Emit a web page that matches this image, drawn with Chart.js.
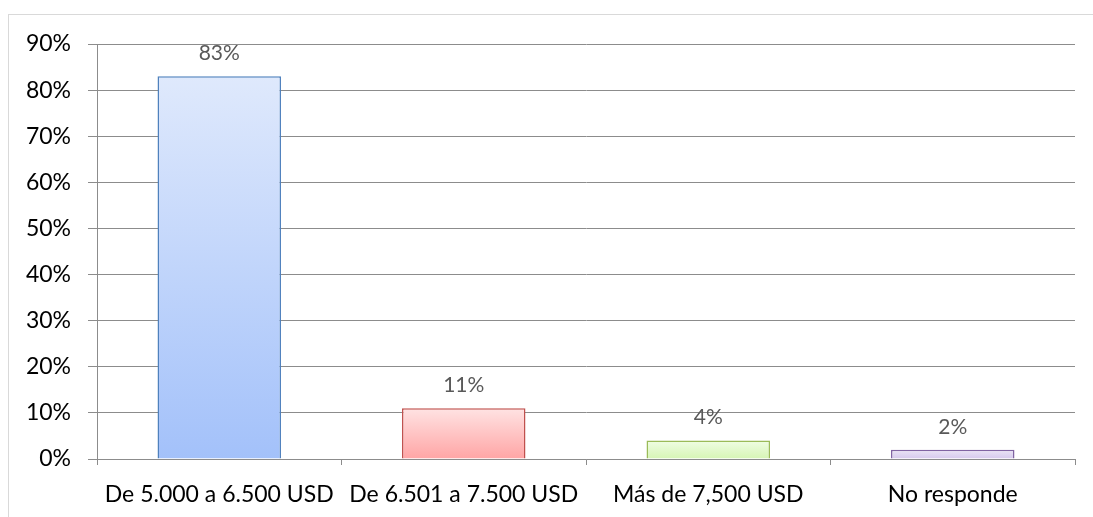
<!DOCTYPE html>
<html>
<head>
<meta charset="utf-8">
<script src="https://cdn.jsdelivr.net/npm/chart.js@4.4.0/dist/chart.umd.min.js"></script>
<style>
    html, body { margin: 0; padding: 0; background: #ffffff; overflow: hidden; }
    #wrap { position: relative; width: 1093px; height: 517px; }
    #frame {
        position: absolute; left: 8px; top: 14px;
        width: 1200px; height: 600px;
        border: 1px solid #d9d9d9;
    }
    canvas { position: absolute; left: 0; top: 0; }
</style>
</head>
<body>
<div id="wrap">
    <div id="frame"></div>
    <canvas id="chart" width="1093" height="517"></canvas>
</div>
<script>
const categories = [
    'De 5.000 a 6.500 USD',
    'De 6.501 a 7.500 USD',
    'Más de 7,500 USD',
    'No responde'
];
const values = [83, 11, 4, 2];
const yTicks = [0, 10, 20, 30, 40, 50, 60, 70, 80, 90];

// top / bottom gradient colours and border for each bar
const topColors = ['#dfe9fc', '#ffe3e3', '#f0fde4', '#ebe5f5'];
const bottomColors = ['#a3c1fa', '#ffa5a5', '#d6f5b4', '#d5c8ec'];
const borderColors = ['#4f81bd', '#c0504d', '#9bbb59', '#8064a2'];

const FONT = 'Lato, "Liberation Sans", Arial, sans-serif';

function barGradient(ctx) {
    const chart = ctx.chart;
    const i = ctx.dataIndex;
    const y = chart.scales && chart.scales.y;
    if (!chart.chartArea || !y || i === undefined) return topColors[i || 0];
    const top = y.getPixelForValue(values[i]);
    const base = y.getPixelForValue(0);
    const g = chart.ctx.createLinearGradient(0, top, 0, base);
    g.addColorStop(0, topColors[i]);
    g.addColorStop(1, bottomColors[i]);
    return g;
}

const valueLabels = {
    id: 'valueLabels',
    afterDatasetsDraw(chart) {
        const ctx = chart.ctx;
        const meta = chart.getDatasetMeta(0);
        ctx.save();
        ctx.font = '21px ' + FONT;
        ctx.fillStyle = '#595959';
        ctx.textAlign = 'center';
        ctx.textBaseline = 'middle';
        meta.data.forEach((bar, i) => {
            ctx.fillText(values[i] + '%', bar.x, bar.y - 23);
        });
        ctx.restore();
    }
};

new Chart(document.getElementById('chart'), {
    type: 'bar',
    data: {
        labels: categories,
        datasets: [{
            data: values,
            backgroundColor: barGradient,
            borderColor: borderColors,
            borderWidth: 1.5,
            categoryPercentage: 1,
            barPercentage: 0.505
        }]
    },
    options: {
        responsive: false,
        animation: false,
        layout: {
            padding: { top: 44, right: 18, left: 0, bottom: 0 }
        },
        plugins: {
            legend: { display: false },
            tooltip: { enabled: false }
        },
        scales: {
            x: {
                grid: {
                    display: true,
                    drawOnChartArea: false,
                    drawTicks: true,
                    tickLength: 6,
                    color: '#8c8c8c'
                },
                border: { color: '#8c8c8c', width: 1 },
                ticks: {
                    color: '#000000',
                    font: { family: FONT, size: 23 },
                    padding: 16,
                    maxRotation: 0,
                    autoSkip: false
                },
                afterFit: s => { s.height = 58; }
            },
            y: {
                min: 0,
                max: 90,
                afterBuildTicks: s => {
                    s.ticks = yTicks.map(v => ({ value: v }));
                },
                grid: {
                    color: '#8c8c8c',
                    tickLength: 9
                },
                border: { color: '#8c8c8c', width: 1 },
                ticks: {
                    color: '#000000',
                    font: { family: FONT, size: 23 },
                    padding: 17,
                    callback: v => v + '%'
                },
                afterFit: s => { s.width = 97; }
            }
        }
    },
    plugins: [valueLabels]
});
</script>
</body>
</html>
